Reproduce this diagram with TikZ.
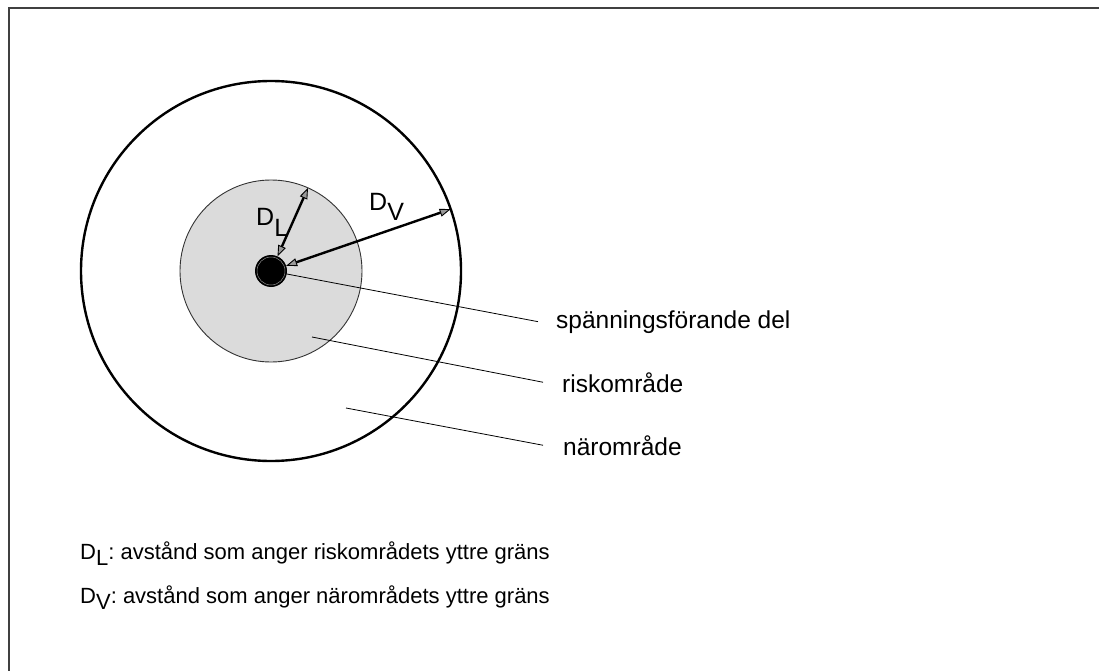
\documentclass[tikz,border=0pt]{standalone}
\usepackage{fontspec}
\setmainfont{Liberation Sans}
\usetikzlibrary{arrows.meta}
\newcommand{\Dsub}[2]{D\raisebox{-#2}{#1}}
\begin{document}
\begin{tikzpicture}[x=1pt,y=-1pt,
  zone/.style={circle,inner sep=0pt,outer sep=0pt},
  dim/.style={line width=2.4pt,{Triangle[length=11pt,width=8pt,line width=0.9pt,fill=black!40]}-{Triangle[length=11pt,width=8pt,line width=0.9pt,fill=black!40]}},
  leader/.style={line width=0.8pt},
  lbl/.style={anchor=base west,inner sep=0pt,font=\fontsize{24.5}{28}\selectfont},
  legend/.style={anchor=base west,inner sep=0pt,font=\fontsize{22}{26}\selectfont}]
\useasboundingbox (0,0) rectangle (1099,671);
% frame
\draw[line width=1.5pt,black!75] (9,671) -- (9,8) -- (1099,8);
% zones
\node[zone,draw=black,line width=2.4pt,minimum size=380pt] (near) at (271,271) {};
\node[zone,draw=black!80,line width=0.9pt,fill=black!14,minimum size=182pt] (risk) at (271,271) {};
\node[zone,fill=black,minimum size=32pt] (live) at (271,271) {};
\draw[black!45,line width=0.5pt] (live.center) circle (14);
% distances
\draw[dim] (live.66) -- (risk.66);
\draw[dim] (live.19.6) -- (near.19.6);
\node[anchor=base west,inner sep=0pt,font=\fontsize{25}{28}\selectfont] (dl) at (256,225) {\Dsub{L}{11pt}};
\node[anchor=base west,inner sep=0pt,font=\fontsize{25}{28}\selectfont] (dv) at (369,210) {\Dsub{V}{10pt}};
% labels
\node[lbl] (tlive) at (556,328) {spänningsförande del};
\node[lbl] (trisk) at (562,392) {riskområde};
\node[lbl] (tnear) at (563,455) {närområde};
\coordinate (prisk) at (312,337);
\coordinate (pnear) at (346,408);
\draw[leader] (live) -- ([xshift=-18pt]tlive.west);
\draw[leader] (prisk) -- ([xshift=-19pt]trisk.west);
\draw[leader] (pnear) -- ([xshift=-20pt]tnear.west);
% legend
\node[legend] (leg1) at (80,559) {\Dsub{L}{6pt}:\hspace{-2pt} avstånd som anger riskområdets yttre gräns};
\node[legend] (leg2) at (80,603) {\Dsub{V}{6pt}:\hspace{-2pt} avstånd som anger närområdets yttre gräns};
\end{tikzpicture}
\end{document}
